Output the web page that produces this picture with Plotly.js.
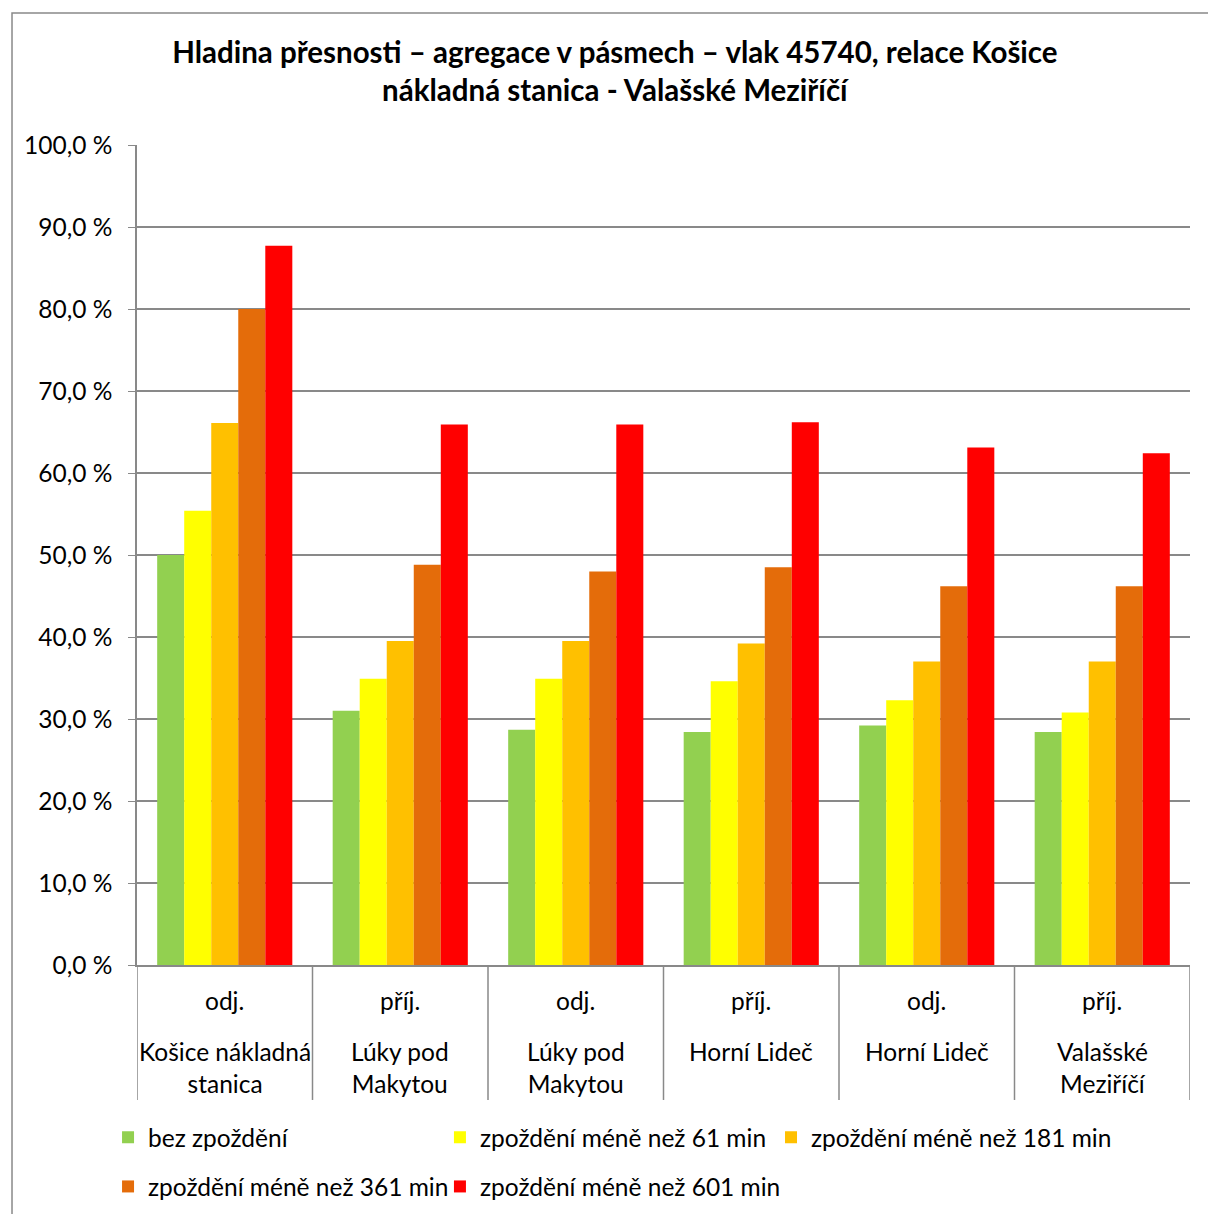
<!DOCTYPE html>
<html><head><meta charset="utf-8">
<script src="https://cdn.plot.ly/plotly-3.0.1.min.js"></script>
<style>html,body{margin:0;padding:0;background:#fff}</style>
</head><body><div id="chart" style="width:1208px;height:1214px"></div>
<script>
const categories = ["c1","c2","c3","c4","c5","c6"];
const catTypes = ["odj.","příj.","odj.","příj.","odj.","příj."];
const catNames = ["Košice nákladná<br>stanica","Lúky pod<br>Makytou","Lúky pod<br>Makytou","Horní Lideč","Horní Lideč","Valašské<br>Meziříčí"];
const seriesNames = ["bez zpoždění","zpoždění méně než 61 min","zpoždění méně než 181 min","zpoždění méně než 361 min","zpoždění méně než 601 min"];
const bezZpozdeni = [50.0, 31.0, 28.7, 28.4, 29.2, 28.4];
const mene61 = [55.4, 34.9, 34.9, 34.6, 32.3, 30.8];
const mene181 = [66.1, 39.5, 39.5, 39.2, 37.0, 37.0];
const mene361 = [80.0, 48.8, 48.0, 48.5, 46.2, 46.2];
const mene601 = [87.7, 65.9, 65.9, 66.2, 63.1, 62.4];
const colors = ["#92d050","#ffff00","#ffc000","#e46c0a","#ff0000"];

const FONT = "Lato, 'Open Sans', sans-serif";
const FS = 24.5;
const allSeries = [bezZpozdeni, mene61, mene181, mene361, mene601];
const legendIds = ["legend", "legend2", "legend3", "legend4", "legend5"];
const traces = allSeries.map((vals, i) => ({
  type: "bar", x: categories, y: vals, name: seriesNames[i],
  marker: {color: colors[i], line: {width: 0}},
  legend: legendIds[i],
  hoverinfo: "y"
}));

const annotations = [];
categories.forEach((c, i) => {
  annotations.push({x: c, xref: "x", yref: "paper", y: -0.0427, yanchor: "middle", showarrow: false,
    text: catTypes[i], font: {family: FONT, size: FS, color: "#000"}});
  annotations.push({x: c, xref: "x", yref: "paper", y: -0.0854, yanchor: "top", showarrow: false,
    text: catNames[i], font: {family: FONT, size: FS, color: "#000"}});
});

const shapes = [];
for (let k = 0; k <= categories.length; k++) {
  shapes.push({type: "line", xref: "x", yref: "paper", x0: k - 0.5, x1: k - 0.5, y0: 0, y1: -0.1646,
    line: {color: "#898989", width: 1.5}});
}
shapes.push({type: "rect", xref: "paper", yref: "paper", x0: -0.1187, x1: 1.2, y0: -0.4, y1: 1.161,
  line: {color: "#898989", width: 1.5}, fillcolor: "rgba(0,0,0,0)"});

const legendBase = {orientation: "v", xanchor: "left", yanchor: "top", yref: "paper",
  font: {family: FONT, size: FS, color: "#000"},
  bgcolor: "rgba(0,0,0,0)", borderwidth: 0};
const legX = [-0.0275, 0.2877, 0.6021, -0.0275, 0.2877];
const legY = [-0.1827, -0.1827, -0.1827, -0.2427, -0.2427];

const layout = {
  width: 1208, height: 1214,
  margin: {l: 137, r: 18, t: 145, b: 249, autoexpand: false},
  paper_bgcolor: "#fff", plot_bgcolor: "#fff",
  font: {family: FONT, size: FS, color: "#000"},
  separators: ",.",
  title: {text: "<b>Hladina přesnosti – agregace v pásmech – vlak 45740, relace Košice<br>nákladná stanica - Valašské Meziříčí</b>",
    font: {family: FONT, size: 29.5, color: "#000"}, x: 0.509, xanchor: "center", xref: "container",
    y: 1 - 63/1214, yanchor: "top", yref: "container"},
  barmode: "group", bargap: 0.23, bargroupgap: 0,
  xaxis: {type: "category", showticklabels: false, showline: true, linecolor: "#898989", linewidth: 1.5,
    ticks: "", showgrid: false, range: [-0.5, 5.5], fixedrange: true},
  yaxis: {range: [0, 100], dtick: 10, tick0: 0, tickformat: ".1f", ticksuffix: " %",
    showline: true, linecolor: "#898989", linewidth: 1.5, ticks: "outside", ticklen: 7, tickcolor: "#898989",
    ticklabelstandoff: 11,
    showgrid: true, gridcolor: "#898989", gridwidth: 1.5, zeroline: false,
    tickfont: {family: FONT, size: FS, color: "#000"}, fixedrange: true},
  showlegend: true,
  annotations: annotations,
  shapes: shapes
};
legendIds.forEach((id, i) => {
  layout[id] = Object.assign({}, legendBase, {x: legX[i], y: legY[i]});
});
Plotly.newPlot("chart", traces, layout, {displayModeBar: false, responsive: false});
</script></body></html>
